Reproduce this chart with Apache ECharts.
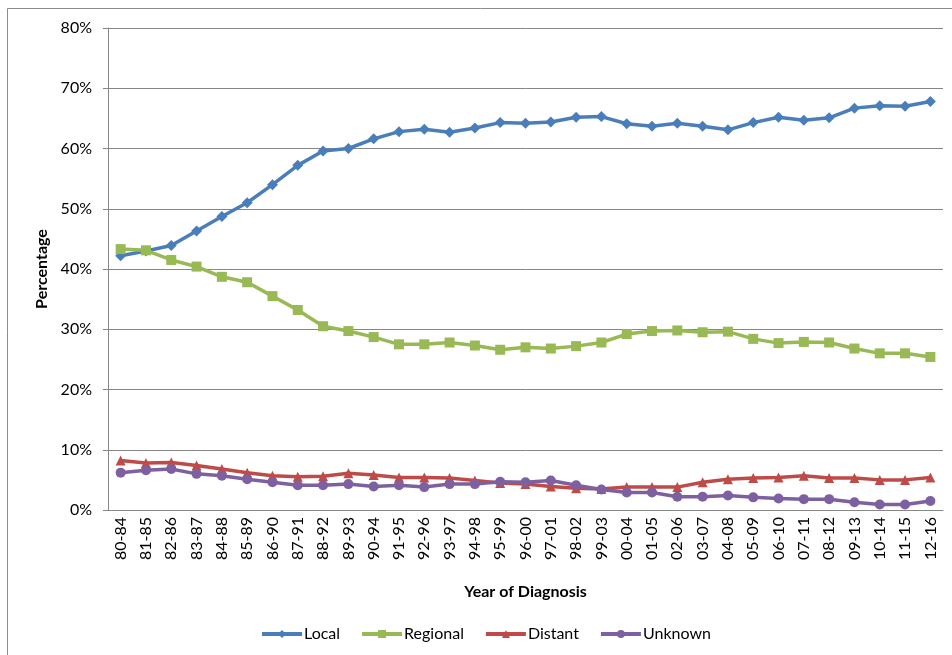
<!DOCTYPE html>
<html>
<head>
<meta charset="utf-8">
<script src="https://cdn.jsdelivr.net/npm/echarts@6/dist/echarts.min.js"></script>
<style>html,body{margin:0;padding:0;background:#fff}#c{width:952px;height:655px}</style>
</head>
<body>
<div id="c"></div>
<script>
const categories = ['80-84','81-85','82-86','83-87','84-88','85-89','86-90','87-91','88-92','89-93','90-94','91-95','92-96','93-97','94-98','95-99','96-00','97-01','98-02','99-03','00-04','01-05','02-06','03-07','04-08','05-09','06-10','07-11','08-12','09-13','10-14','11-15','12-16'];
const local = [42.2,43.0,43.9,46.3,48.7,51.0,54.0,57.2,59.6,60.0,61.6,62.8,63.2,62.7,63.4,64.3,64.2,64.4,65.2,65.3,64.1,63.7,64.2,63.7,63.1,64.3,65.2,64.7,65.1,66.7,67.1,67.0,67.8];
const regional = [43.3,43.1,41.5,40.4,38.7,37.8,35.5,33.2,30.5,29.7,28.7,27.5,27.5,27.8,27.3,26.6,27.0,26.8,27.2,27.8,29.2,29.7,29.8,29.5,29.6,28.4,27.7,27.9,27.8,26.8,26.0,26.0,25.4];
const distant = [8.2,7.8,7.9,7.4,6.8,6.2,5.7,5.5,5.6,6.1,5.8,5.4,5.4,5.3,4.9,4.5,4.3,3.9,3.6,3.5,3.8,3.8,3.8,4.6,5.1,5.3,5.4,5.7,5.3,5.3,5.0,5.0,5.4];
const unknown = [6.2,6.6,6.8,6.0,5.7,5.1,4.6,4.1,4.1,4.3,3.9,4.1,3.8,4.3,4.3,4.7,4.6,4.9,4.1,3.4,2.9,2.9,2.2,2.2,2.4,2.1,1.9,1.8,1.8,1.3,0.9,0.9,1.5];
const yTicks = {min: 0, max: 80, interval: 10};

const FONT = 'Lato, "Open Sans", sans-serif';
const chart = echarts.init(document.getElementById('c'), null, {renderer: 'canvas'});
function mk(name, data, color, symbol, size) {
  return {
    name, type: 'line', data, symbol, symbolSize: size, showSymbol: true,
    lineStyle: {color, width: 3.5}, itemStyle: {color},
    emphasis: {disabled: true}, animation: false
  };
}
chart.setOption({
  animation: false,
  textStyle: {fontFamily: FONT},
  graphic: [{type: 'rect', shape: {x: 7.5, y: 8.5, width: 1000, height: 1000}, style: {fill: 'none', stroke: '#8c8c8c', lineWidth: 1}, silent: true}],
  grid: {left: 108, right: 9, top: 28, bottom: 145},
  legend: {
    bottom: 8, left: 255, itemWidth: 40, itemHeight: 10, itemGap: 20,
    lineStyle: {width: 4},
    textStyle: {fontFamily: FONT, fontSize: 16, color: '#000', padding: [0, 0, 0, -3]},
    data: ['Local','Regional','Distant','Unknown']
  },
  xAxis: {
    type: 'category', data: categories, boundaryGap: true,
    name: 'Year of Diagnosis', nameLocation: 'middle', nameGap: 74,
    nameTextStyle: {fontFamily: FONT, fontSize: 16, fontWeight: 'bold', color: '#000'},
    axisLine: {lineStyle: {color: '#878787', width: 1}},
    axisTick: {show: false},
    axisLabel: {rotate: 90, fontSize: 16, color: '#000', fontFamily: FONT, margin: 7, interval: 0}
  },
  yAxis: {
    type: 'value', min: yTicks.min, max: yTicks.max, interval: yTicks.interval,
    name: 'Percentage', nameLocation: 'middle', nameGap: 58,
    nameTextStyle: {fontFamily: FONT, fontSize: 16, fontWeight: 'bold', color: '#000'},
    axisLine: {show: true, lineStyle: {color: '#878787', width: 1}},
    axisTick: {show: true, length: 5, lineStyle: {color: '#878787'}},
    splitLine: {lineStyle: {color: '#878787', width: 1}},
    axisLabel: {formatter: '{value}%', fontSize: 16, color: '#000', fontFamily: FONT, margin: 16}
  },
  series: [
    mk('Local', local, '#4A7EBB', 'diamond', 11),
    mk('Regional', regional, '#98B954', 'rect', 10),
    mk('Distant', distant, '#BE4B48', 'triangle', 10),
    mk('Unknown', unknown, '#7D60A0', 'circle', 10)
  ]
});
</script>
</body>
</html>
